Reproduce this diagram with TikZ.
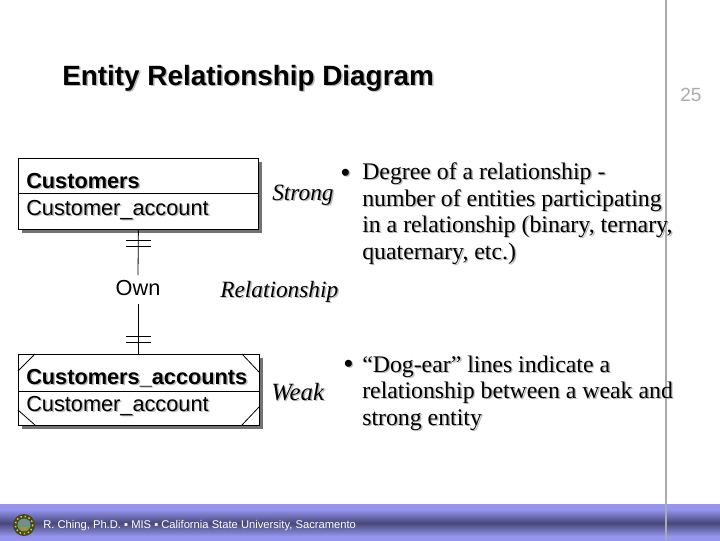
\documentclass[tikz,border=0pt]{standalone}
\usepackage{fontspec}
\setmainfont{Liberation Serif}
\setsansfont{Liberation Sans}
\usetikzlibrary{shadows}
\definecolor{bandlight}{RGB}{150,150,240}
\definecolor{banddark}{RGB}{72,72,122}
\definecolor{pagegray}{RGB}{170,170,176}
\definecolor{txtshadow}{RGB}{185,185,185}
\pgfdeclareverticalshading{bandshade}{100bp}{color(0bp)=(bandlight); color(30bp)=(bandlight); color(48.6bp)=(banddark); color(68bp)=(bandlight); color(100bp)=(bandlight)}
\newcommand{\fsz}[1]{\fontsize{#1}{#1}\selectfont}
% text with a soft offset shadow: grey copy first, then the text itself
\newcommand{\shtext}[5][]{%
  \node[#2,text=txtshadow,xshift=1.1pt,yshift=-1.1pt] at (#3) {#5};
  \node[#2,#1] (#4) at (#3) {#5};}
\tikzset{
  ent/.style={draw=black,fill=white,line width=0.6pt,inner sep=0pt,
    minimum height=53.25pt,
    drop shadow={shadow xshift=2.6pt,shadow yshift=-2.6pt,fill=black!55,opacity=1}},
  link/.style={draw=black,line width=0.6pt},
  title/.style={anchor=base west,inner sep=0pt,font=\sffamily\bfseries\fsz{20.9}},
  ertext/.style={anchor=base west,inner sep=0pt,font=\sffamily\fsz{16.3}},
  erbold/.style={anchor=base west,inner sep=0pt,font=\sffamily\bfseries\fsz{16.3}},
  body/.style={anchor=base west,inner sep=0pt,font=\fsz{17.85}},
  bulletmark/.style={anchor=base west,inner sep=0pt,font=\fsz{22}},
  side/.style={anchor=base west,inner sep=0pt,font=\itshape\fsz{17.5}},
  sidewide/.style={anchor=base west,inner sep=0pt,font=\itshape\fsz{18.6}},
  foot/.style={anchor=base west,inner sep=0pt,text=white,font=\sffamily\fsz{8.4}},
}
\begin{document}
\begin{tikzpicture}[x=0.75pt,y=-0.75pt]
\useasboundingbox (0,0) rectangle (720,540);
% footer band
\shade[shading=bandshade] (0,504) rectangle (720,540);
% vertical page rule
\draw[pagegray,line width=0.9pt] (666,0) -- (666,540);
% title and page number
\shtext{title}{62,85}{ttl}{Entity Relationship Diagram}
\node[anchor=base west,inner sep=0pt,text=pagegray,font=\sffamily\fsz{14.3}] (pg) at (680,101) {25};
% strong entity
\node[ent,minimum width=180pt,anchor=north west] (cust) at (18,158) {};
\draw[link] (18,193) -- (258,193);
\shtext{erbold}{26,188}{custname}{Customers}
\shtext{ertext}{26,215}{custkey}{Customer\_account}
% relationship
\node[inner sep=0pt,font=\sffamily\fsz{16.3},text height=15pt,text depth=6pt,anchor=north] (own) at (138,275) {Own};
% weak entity
\node[ent,minimum width=180.75pt,anchor=north west] (acct) at (18,354) {};
\draw[link] (18,391) -- (259,391);
\draw[link] (18,371) -- (35,354) (242,354) -- (259,372)
            (18,410) -- (35,425) (242,425) -- (259,407);
\shtext{erbold}{26,384}{acctname}{Customers\_accounts}
\shtext{ertext}{26,411}{acctkey}{Customer\_account}
% connectors
\draw[link] (cust.south) -- (own.north);
\draw[link] (own.south) -- (own.south |- acct.north);
\draw[link] (126,240) -- (151,240) (126,246) -- (151,246);
\draw[link] (126,336) -- (151,336) (126,342) -- (151,342);
% side labels
\shtext{side}{272,200}{strong}{Strong}
\shtext{side}{220,297}{rel}{Relationship}
\shtext{sidewide}{271,400}{weak}{Weak}
% bullets and body
\shtext{bulletmark}{340,182}{bulA}{•}
\shtext{body}{362,179.5}{a1}{Degree of a relationship -}
\shtext{body}{362,206}{a2}{number of entities participating}
\shtext{body}{362,232.5}{a3}{in a relationship (binary, ternary,}
\shtext{body}{362,259}{a4}{quaternary, etc.)}
\shtext{bulletmark}{343,373}{bulB}{•}
\shtext{body}{362,372}{b1}{“Dog-ear” lines indicate a}
\shtext{body}{362,398.5}{b2}{relationship between a weak and}
\shtext{body}{362,425}{b3}{strong entity}
% seal
\fill[black!65!olive] (24,525) circle (11);
\draw[yellow!75!olive,line width=1.1pt,dotted] (24,525) circle (8.7);
\fill[green!30!gray] (24,525) circle (6.5);
\fill[blue!25!gray!80!white] (18.5,520.5) rectangle (29.5,524.5);
\fill[orange!60!gray] (21,527) rectangle (27,530);
% footer text
\node[foot] (ft) at (43,528) {R. Ching, Ph.D. ▪ MIS ▪ California State University, Sacramento};
\end{tikzpicture}
\end{document}
